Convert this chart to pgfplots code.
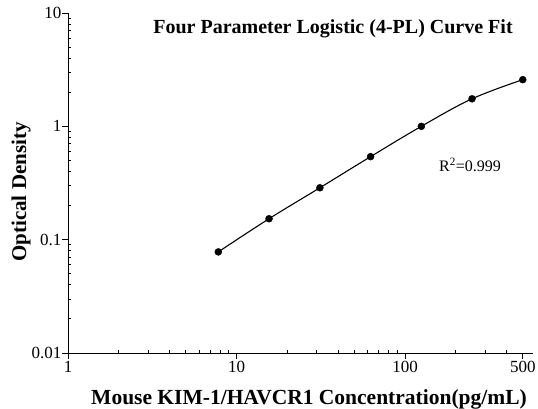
\documentclass[border=0pt]{standalone}
\usepackage{pgfplots}
\pgfplotsset{compat=1.18}
\usepackage{fontspec}
\setmainfont{Liberation Serif}

% standard curve points (concentration, OD)
\pgfplotstableread{
x y
7.8 0.078
15.6 0.153
31.25 0.287
62.5 0.54
125 1.0
250 1.75
500 2.58
}\stdcurve

\begin{document}
\begin{tikzpicture}[x=1pt,y=1pt]
\begin{axis}[%
    ,at={(0,0)},anchor=south west
    ,scale only axis
    ,width=465pt,height=340pt
    ,xmode=log,ymode=log
    ,xmin=1,xmax=575
    ,ymin=0.01,ymax=10
    ,axis lines=left
    ,axis line style={-,line width=0.9pt}
    ,xtick={1,10,100,500}
    ,xticklabels={1,10,100,500}
    ,minor xtick={2,3,4,5,6,7,8,9,20,30,40,50,60,70,80,90,200,300,400}
    ,ytick={0.01,0.1,1,10}
    ,yticklabels={0.01,0.1,1,10}
    ,minor ytick={0.02,0.03,0.04,0.05,0.06,0.07,0.08,0.09,0.2,0.3,0.4,0.5,0.6,0.7,0.8,0.9,2,3,4,5,6,7,8,9}
    ,/pgf/number format/assume math mode=true
    ,tick align=inside
    ,major tick length=-6pt
    ,minor tick length=3.5pt
    ,tick style={black,line width=0.8pt}
    ,tick label style={font=\fontsize{17}{19}\selectfont}
    ,xticklabel style={yshift=-5pt}
    ,yticklabel style={xshift=-3pt}
    ,clip=false
    ]
\addplot[black,line width=1.1pt,smooth,tension=0.6] table[x=x,y=y] {\stdcurve};
\addplot[only marks,mark=*,mark size=3.5pt,black] table[x=x,y=y] {\stdcurve};
\end{axis}
% titles and labels (positions in pt from the axis origin)
\node[font=\fontsize{20}{22}\selectfont\bfseries] at (265pt,324pt) {Four Parameter Logistic (4-PL) Curve Fit};
\node[font=\fontsize{16}{18}\selectfont] at (402pt,188pt) {R\textsuperscript{2}=0.999};
\node[font=\fontsize{21.5}{24}\selectfont\bfseries] at (241pt,-46pt) {Mouse KIM-1/HAVCR1 Concentration(pg/mL)};
\node[font=\fontsize{21}{24}\selectfont\bfseries,rotate=90] at (-47pt,161pt) {Optical Density};
\pgfresetboundingbox
\path (-68pt,-56pt) rectangle (470pt,353pt);
\end{tikzpicture}
\end{document}
